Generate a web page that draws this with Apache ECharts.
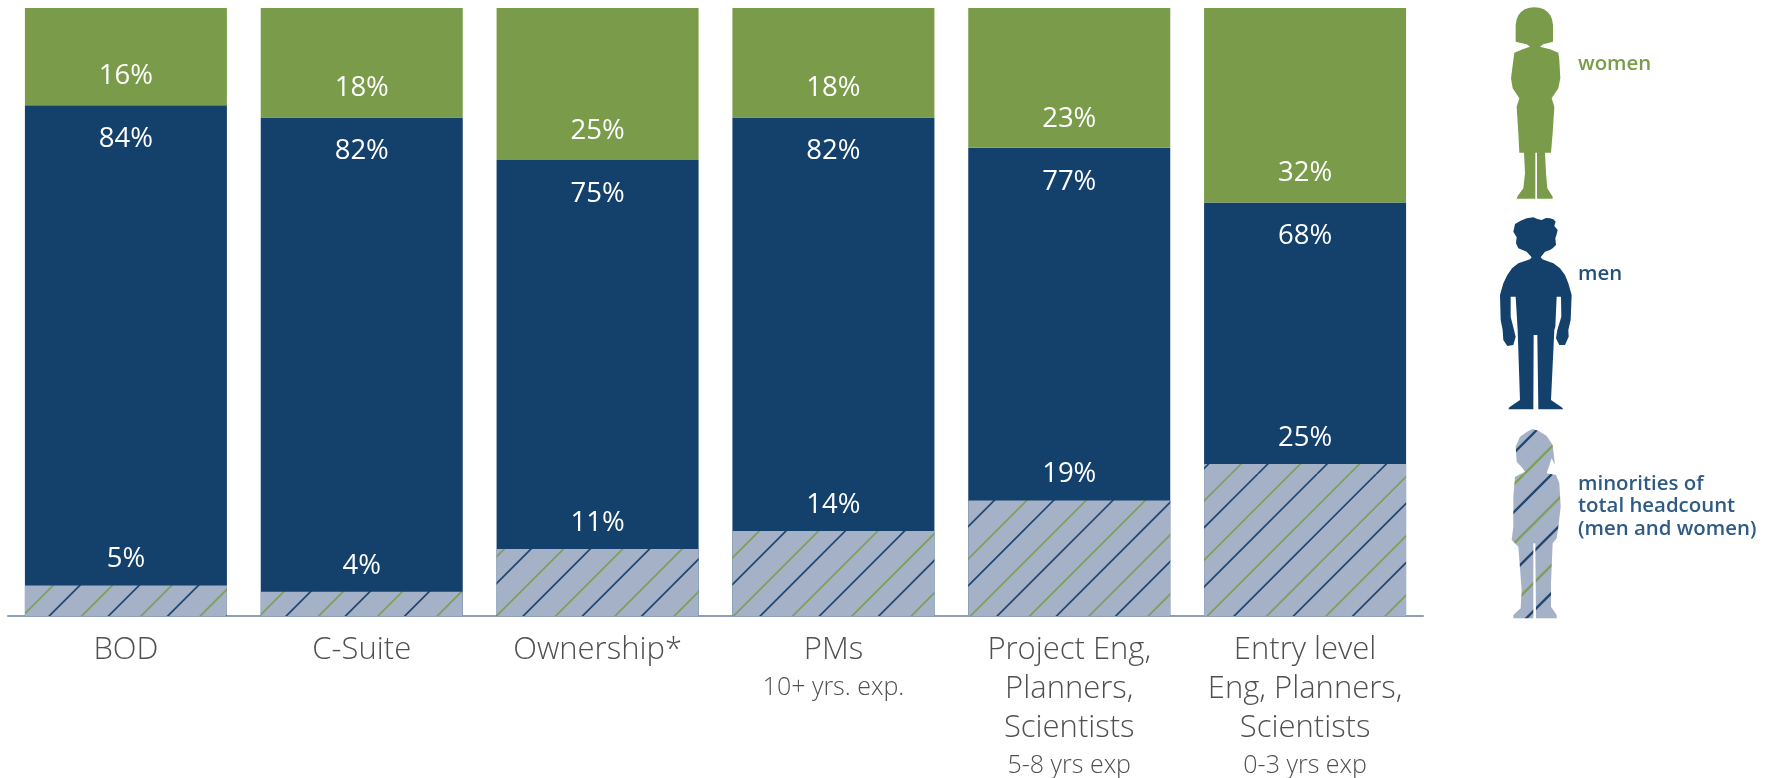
<!DOCTYPE html>
<html>
<head>
<meta charset="utf-8">
<title>Representation by career stage</title>
<script src="https://cdn.jsdelivr.net/npm/echarts@6/dist/echarts.min.js"></script>
<style>
  html, body { margin: 0; padding: 0; background: #ffffff; overflow: hidden; }
  #chart { width: 1776px; height: 778px; }
</style>
</head>
<body>
<div id="chart"></div>
<script>
// Chart values, in percent of headcount
const titles = ['BOD', 'C-Suite', 'Ownership*', 'PMs', 'Project Eng,\nPlanners,\nScientists', 'Entry level\nEng, Planners,\nScientists'];
const subtitles = ['', '', '', '10+ yrs. exp.', '5-8 yrs exp', '0-3 yrs exp'];
const women = [16, 18, 25, 18, 23, 32];
const men = [84, 82, 75, 82, 77, 68];
const minorities = [5, 4, 11, 14, 19, 25];

const GREEN = '#7a9c4a';
const NAVY = '#14406c';
const HATCH_BASE = '#a4b1c6';
const FONT = '"Open Sans", "Noto Sans", sans-serif';

// Repeating diagonal hatch: navy and green stripes on a slate ground
function hatchTile(lineWidth, navyPhase, greenPhase) {
  const period = 59.25, size = 237;
  const c = document.createElement('canvas');
  c.width = size; c.height = size;
  const g = c.getContext('2d');
  g.fillStyle = HATCH_BASE;
  g.fillRect(0, 0, size, size);
  g.lineWidth = lineWidth;
  const stripes = (color, phase) => {
    g.strokeStyle = color;
    for (let k = -1; k <= 9; k++) {
      const s = phase + k * period;
      g.beginPath();
      g.moveTo(s, 0);
      g.lineTo(s - size, size);
      g.stroke();
    }
  };
  stripes('#7f9f58', greenPhase);
  stripes('#1f4672', navyPhase);
  return c;
}
const barHatch = { image: hatchTile(1.7, 13.5, 46), repeat: 'repeat' };
const iconHatch = { image: hatchTile(2.4, 11.5, 43), repeat: 'repeat' };

// Silhouette outlines, traced on a 3x grid and placed by an offset
const womanOutline = [[253,22],[268,23],[282,28],[293,36],[301,46],[306,58],[309,75],[309,125],[295,129],[280,133],[270,140],[300,148],[325,158],[328,180],[331,235],[325,265],[305,295],[313,320],[308,400],[303,458],[285,458],[288,520],[292,565],[308,590],[308,596],[261,596],[261,458],[256,458],[256,596],[200,596],[203,588],[220,565],[225,520],[222,458],[208,458],[205,400],[200,320],[208,295],[188,265],[183,235],[190,180],[193,158],[218,148],[240,140],[230,133],[213,129],[197,125],[197,75],[200,58],[205,46],[213,36],[224,28],[238,23]];
const manOutline = [[250,652],[262,657],[275,660],[288,654],[300,655],[310,658],[317,665],[313,678],[323,690],[320,703],[316,715],[318,735],[308,745],[300,750],[285,755],[272,772],[277,778],[310,790],[330,805],[345,825],[355,850],[365,885],[362,960],[355,990],[356,1010],[345,1035],[328,1035],[318,1015],[322,990],[334,950],[333,890],[320,890],[316,980],[313,990],[303,1200],[335,1222],[340,1228],[265,1228],[262,1005],[251,1005],[250,1228],[175,1228],[178,1222],[210,1200],[203,990],[197,890],[182,890],[182,950],[192,990],[197,1010],[190,1035],[172,1038],[160,1020],[158,990],[152,960],[150,885],[160,850],[172,825],[186,805],[205,790],[240,778],[245,772],[230,755],[205,745],[198,730],[200,712],[190,695],[195,672],[212,662],[230,655]];
const minorityOutline = [[248,297],[265,302],[290,318],[308,345],[315,405],[305,385],[295,415],[290,430],[318,435],[328,460],[332,530],[325,590],[320,625],[308,640],[303,760],[303,830],[320,855],[320,865],[258,865],[256,640],[250,640],[250,865],[190,865],[190,855],[212,835],[215,780],[205,650],[185,630],[190,590],[190,500],[195,440],[225,425],[218,415],[200,395],[197,350],[210,320],[235,303]];

function icon(outline, fill, top) {
  return {
    type: 'polygon',
    silent: true,
    shape: { points: outline.map(p => [1450 + p[0] / 3, top + p[1] / 3]) },
    style: { fill: fill }
  };
}
function caption(text, x, y, color) {
  return {
    type: 'text', x: x, y: y, silent: true,
    style: { text: text, fill: color, font: '600 20.4px ' + FONT, textVerticalAlign: 'middle' }
  };
}

const chart = echarts.init(document.getElementById('chart'), null, { renderer: 'canvas' });

const labelStyle = { show: true, color: '#ffffff', fontFamily: FONT, fontSize: 27.5, formatter: '{c}%' };

chart.setOption({
  animation: false,
  backgroundColor: '#ffffff',
  grid: { left: 8, right: 353, top: 8, bottom: 162 },
  xAxis: {
    type: 'category',
    data: titles,
    axisTick: { show: false },
    axisLine: { lineStyle: { color: '#8ea0b8', width: 2 } },
    axisLabel: {
      interval: 0,
      margin: 15,
      formatter: function (value, index) {
        const rows = value.split('\n').map(t => '{main|' + t + '}');
        if (subtitles[index]) rows.push('{sub|' + subtitles[index] + '}');
        return rows.join('\n');
      },
      rich: {
        main: { fontFamily: FONT, fontSize: 31, fontWeight: 300, color: '#505050', lineHeight: 39 },
        sub: { fontFamily: FONT, fontSize: 25, fontWeight: 300, color: '#505050', lineHeight: 35 }
      }
    }
  },
  yAxis: { type: 'value', min: 0, max: 100, show: false },
  series: [
    {
      name: 'men', type: 'bar', stack: 'gender', barWidth: 202, barGap: '-100%', data: men,
      itemStyle: { color: NAVY },
      label: Object.assign({}, labelStyle, { position: 'insideTop', distance: 20 })
    },
    {
      name: 'women', type: 'bar', stack: 'gender', barWidth: 202, data: women,
      itemStyle: { color: GREEN },
      label: Object.assign({}, labelStyle, { position: 'insideBottom', distance: 15 })
    },
    {
      name: 'minorities of total headcount (men and women)', type: 'bar', stack: 'share', barWidth: 202, data: minorities,
      itemStyle: { color: barHatch },
      label: Object.assign({}, labelStyle, { position: 'top', distance: 12 })
    }
  ],
  graphic: [
    icon(womanOutline, GREEN, 0),
    icon(manOutline, NAVY, 0),
    icon(minorityOutline, iconHatch, 330),
    caption('women', 1578, 64, '#7a9c4a'),
    caption('men', 1578, 274, '#24507c'),
    caption('minorities of', 1578, 484, '#2f5a84'),
    caption('total headcount', 1578, 506, '#2f5a84'),
    caption('(men and women)', 1578, 529, '#2f5a84')
  ]
});
</script>
</body>
</html>
